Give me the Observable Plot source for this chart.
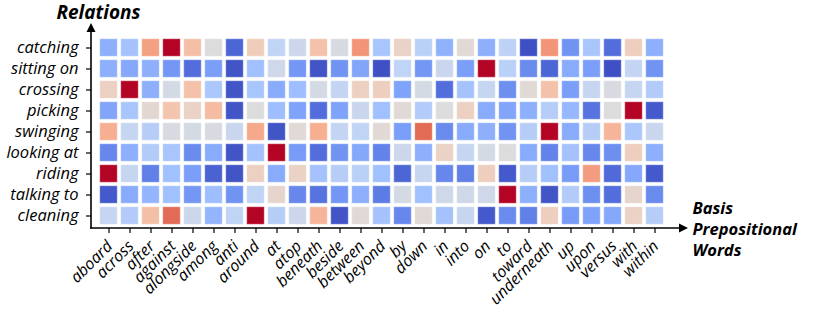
<!DOCTYPE html>
<html>
<head>
<meta charset="utf-8">
<script src="https://cdn.jsdelivr.net/npm/d3@7"></script>
<script src="https://cdn.jsdelivr.net/npm/@observablehq/plot@0.6"></script>
<style>
  html, body { margin: 0; padding: 0; background: #fff; }
</style>
</head>
<body>
<div id="chart"></div>
<script>
const relations = ["catching", "sitting on", "crossing", "picking", "swinging", "looking at", "riding", "talking to", "cleaning"];
const prepositions = ["aboard", "across", "after", "against", "alongside", "among", "anti", "around", "at", "atop", "beneath", "beside", "between", "beyond", "by", "down", "in", "into", "on", "to", "toward", "underneath", "up", "upon", "versus", "with", "within"];
const xTitleLines = ["Basis", "Prepositional", "Words"];

const catching   = [0.25,0.32,0.73,1.00,0.64,0.50,0.06,0.59,0.40,0.44,0.63,0.48,0.76,0.33,0.56,0.38,0.26,0.52,0.25,0.39,0.01,0.76,0.17,0.33,0.08,0.58,0.25];
const sittingOn  = [0.25,0.23,0.25,0.18,0.08,0.20,0.02,0.31,0.45,0.18,0.02,0.17,0.22,0.01,0.40,0.18,0.43,0.20,1.00,0.38,0.15,0.06,0.24,0.20,0.01,0.41,0.17];
const crossing   = [0.57,1.00,0.25,0.47,0.63,0.34,0.02,0.33,0.24,0.30,0.47,0.41,0.57,0.58,0.21,0.47,0.08,0.32,0.42,0.16,0.52,0.63,0.20,0.42,0.48,0.42,0.36];
const picking    = [0.22,0.33,0.53,0.62,0.56,0.65,0.02,0.50,0.30,0.21,0.08,0.21,0.43,0.31,0.52,0.36,0.50,0.57,0.24,0.22,0.25,0.37,0.28,0.09,0.50,1.00,0.03];
const swinging   = [0.69,0.42,0.37,0.48,0.47,0.48,0.43,0.71,0.02,0.52,0.69,0.41,0.40,0.52,0.20,0.85,0.15,0.24,0.25,0.17,0.37,1.00,0.24,0.37,0.67,0.34,0.43];
const lookingAt  = [0.14,0.25,0.36,0.33,0.15,0.24,0.02,0.32,1.00,0.19,0.08,0.17,0.23,0.13,0.44,0.25,0.56,0.42,0.47,0.50,0.24,0.13,0.32,0.14,0.16,0.58,0.25];
const riding     = [1.00,0.42,0.12,0.31,0.20,0.05,0.02,0.57,0.24,0.56,0.32,0.37,0.38,0.31,0.06,0.42,0.14,0.12,0.58,0.03,0.37,0.31,0.19,0.74,0.07,0.23,0.03];
const talkingTo  = [0.03,0.24,0.27,0.31,0.18,0.30,0.17,0.40,0.54,0.14,0.09,0.18,0.25,0.11,0.47,0.31,0.45,0.45,0.45,1.00,0.25,0.02,0.36,0.16,0.08,0.54,0.15];
const cleaning   = [0.42,0.36,0.64,0.85,0.44,0.27,0.40,1.00,0.37,0.44,0.67,0.02,0.52,0.32,0.14,0.52,0.32,0.42,0.03,0.15,0.12,0.58,0.19,0.21,0.23,0.56,0.37];

const rows = [catching, sittingOn, crossing, picking, swinging, lookingAt, riding, talkingTo, cleaning];

// coolwarm colormap stops
const coolwarm = ["#3b4cc0", "#5977e3", "#7b9ff9", "#9ebeff", "#c0d4f5", "#dddcdc", "#f2cbb7", "#f7ac8e", "#ee8468", "#d65244", "#b40426"];

const table = [];
relations.forEach((r, i) => {
  prepositions.forEach((p, j) => {
    table.push({relation: r, prep: p, value: rows[i][j]});
  });
});

// axis lines with filled arrowheads
function axisArrows(index, scales, values, dims) {
  const {width, height, marginLeft, marginRight, marginTop, marginBottom} = dims;
  const x0 = marginLeft;
  const y0 = height - marginBottom;
  const yTip = marginTop - 11;
  const xTip = width - marginRight + 16;
  const g = d3.create("svg:g");
  g.append("line").attr("x1", x0).attr("y1", y0 + 0.8).attr("x2", x0).attr("y2", yTip + 6)
    .attr("stroke", "black").attr("stroke-width", 1.6);
  g.append("line").attr("x1", x0 - 0.8).attr("y1", y0).attr("x2", xTip - 6).attr("y2", y0)
    .attr("stroke", "black").attr("stroke-width", 1.6);
  g.append("path").attr("d", `M${x0},${yTip}L${x0 - 4.5},${yTip + 9}L${x0 + 4.5},${yTip + 9}Z`).attr("fill", "black");
  g.append("path").attr("d", `M${xTip},${y0}L${xTip - 9},${y0 - 4.5}L${xTip - 9},${y0 + 4.5}Z`).attr("fill", "black");
  return g.node();
}

const titleStyle = {textAnchor: "start", lineAnchor: "middle", fontSize: 16.5, fontWeight: "bold", fontStyle: "italic", fill: "black"};

const chart = Plot.plot({
  width: 814,
  height: 310,
  marginLeft: 91,
  marginRight: 142,
  marginTop: 34,
  marginBottom: 82,
  style: {fontFamily: "'Open Sans', sans-serif", fontSize: "16.5px", fontStyle: "italic", color: "black", background: "white"},
  x: {domain: prepositions, padding: 0, axis: null},
  y: {domain: relations, padding: 0, axis: null},
  color: {type: "linear", domain: [0, 1], interpolate: d3.piecewise(d3.interpolateRgb, coolwarm)},
  marks: [
    Plot.cell(table, {x: "prep", y: "relation", fill: "value", inset: 1.75, stroke: "white", strokeOpacity: 0.35, strokeWidth: 1}),
    Plot.axisY({anchor: "left", tickSize: 5, tickPadding: 8, label: null, fontSize: 16.5, fontStyle: "italic", strokeWidth: 1.2}),
    Plot.axisX({anchor: "bottom", tickSize: 5, label: null, tickFormat: () => "", strokeWidth: 1.2}),
    Plot.text(prepositions, {x: d => d, text: d => d, frameAnchor: "bottom", dy: 15, dx: 1, rotate: -45, textAnchor: "end", lineAnchor: "middle", fontSize: 16, fontStyle: "italic", fill: "black"}),
    Plot.text(["Relations"], {frameAnchor: "top-left", dx: 7, dy: -22, text: d => d, textAnchor: "middle", lineAnchor: "middle", fontSize: 19, fontWeight: "bold", fontStyle: "italic", fill: "black"}),
    Plot.text([xTitleLines[0]], {frameAnchor: "bottom-right", dx: 20, dy: -20, text: d => d, ...titleStyle}),
    Plot.text([xTitleLines[1]], {frameAnchor: "bottom-right", dx: 20, dy: 1, text: d => d, ...titleStyle}),
    Plot.text([xTitleLines[2]], {frameAnchor: "bottom-right", dx: 20, dy: 22, text: d => d, ...titleStyle}),
    axisArrows
  ]
});

document.getElementById("chart").appendChild(chart);
</script>
</body>
</html>
